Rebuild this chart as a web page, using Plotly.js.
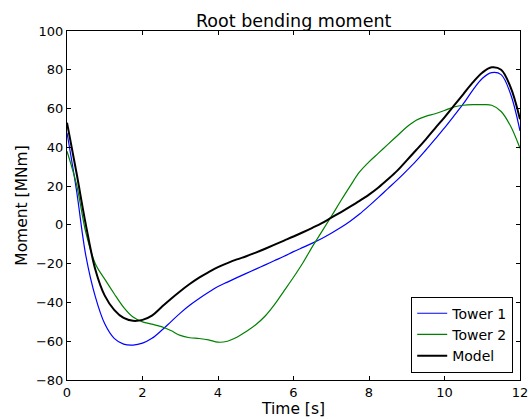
<!DOCTYPE html>
<html>
<head>
<meta charset="utf-8">
<script src="https://cdn.plot.ly/plotly-3.0.1.min.js"></script>
<style>html,body{margin:0;padding:0;background:#fff;}#chart{width:531px;height:418px;}</style>
</head>
<body>
<div id="chart"></div>
<script>
const time = [0,0.25,0.5,0.75,1,1.25,1.5,1.75,2,2.25,2.5,2.75,3,3.25,3.5,3.75,4,4.25,4.5,4.75,5,5.25,5.5,5.75,6,6.25,6.5,6.75,7,7.25,7.5,7.75,8,8.25,8.5,8.75,9,9.25,9.5,9.75,10,10.25,10.5,10.75,11,11.25,11.5,11.75,12];

const tower1 = [47.5,18,-16,-37,-51,-58.5,-61.5,-62,-61,-58.5,-54.5,-50,-45.5,-41.5,-38,-34.8,-31.8,-29.5,-27.2,-25,-22.8,-20.6,-18.4,-16.2,-13.8,-11.6,-9.4,-7,-4.3,-1.4,1.9,5.6,9.8,14.2,18.7,23.2,28,33,38.5,44.2,50,56.2,62.5,69.5,75.5,78.5,77.5,67.5,48.5];

const tower2 = [38,21,-4,-20,-28,-35.5,-42.5,-47.5,-50,-51.2,-52.5,-54.5,-57,-58.2,-58.6,-59.3,-60.5,-60,-58,-55,-51.5,-47,-41,-34,-27,-19.5,-11.2,-3.5,4.3,12.3,20,27.3,32.5,37,41.5,46,50.5,54,56,57.3,59,60.8,61.7,62,62,61.7,58.5,51,39.5];

const model = [52.7,27,0,-23,-36.5,-43.8,-48,-49.5,-49,-46.8,-42.5,-38.2,-34.2,-30.5,-27.2,-24.4,-21.8,-19.7,-17.8,-16.2,-14.3,-12.3,-10.2,-8.1,-6,-3.8,-1.5,0.9,3.7,6.5,9.4,12.4,15.6,19.3,23.5,28,33.3,38.6,44,49.8,55.5,61.5,67.5,73.5,78.5,81.3,80,71,54.5];

const seriesNames = ["Tower 1","Tower 2","Model"];

const font = "DejaVu Sans, sans-serif";

const traces = [
  {x: time, y: tower1, name: seriesNames[0], type: "scatter", mode: "lines",
   line: {color: "#0000ff", width: 1.2, shape: "spline", smoothing: 1}},
  {x: time, y: tower2, name: seriesNames[1], type: "scatter", mode: "lines",
   line: {color: "#008000", width: 1.2, shape: "spline", smoothing: 1}},
  {x: time, y: model, name: seriesNames[2], type: "scatter", mode: "lines",
   line: {color: "#000000", width: 2, shape: "spline", smoothing: 1}}
];

const axisCommon = {
  showgrid: false, zeroline: false,
  showline: true, linecolor: "#000", linewidth: 1, mirror: "ticks",
  ticks: "inside", ticklen: 4, tickwidth: 1, tickcolor: "#000",
  tickfont: {family: font, size: 13, color: "#000"}
};

const layout = {
  width: 531, height: 418,
  margin: {l: 67, r: 11, t: 31, b: 38, pad: 0},
  paper_bgcolor: "#fff", plot_bgcolor: "#fff",
  title: {text: "Root bending moment", font: {family: font, size: 17.5, color: "#000"},
          x: 0.553, xanchor: "center", y: 0.95, yref: "container", yanchor: "middle"},
  xaxis: Object.assign({}, axisCommon, {
    range: [0, 12], dtick: 2, tick0: 0,
    title: {text: "Time [s]", font: {family: font, size: 15.5, color: "#000"}, standoff: 2}
  }),
  yaxis: Object.assign({}, axisCommon, {
    range: [-80, 100], dtick: 20, tick0: 0,
    title: {text: "Moment [MNm]", font: {family: font, size: 15.5, color: "#000"}, standoff: 4}
  }),
  showlegend: true,
  legend: {x: 0.985, xanchor: "right", y: 0.021, yanchor: "bottom",
           bgcolor: "#fff", bordercolor: "#000", borderwidth: 1,
           font: {family: font, size: 14, color: "#000"}, tracegroupgap: 0}
};

Plotly.newPlot("chart", traces, layout, {displayModeBar: false, staticPlot: true});
</script>
</body>
</html>
